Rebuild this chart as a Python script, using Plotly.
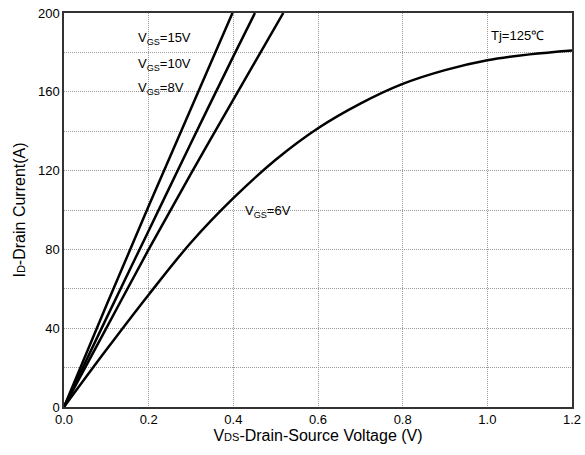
import plotly.graph_objects as go

# Data (Tj = 125 C output characteristics)
v_15 = [0.0, 0.1, 0.2, 0.3, 0.398]
i_15 = [0.0, 51.5, 102.0, 151.5, 200.0]

v_10 = [0.0, 0.1, 0.2, 0.3, 0.4, 0.451]
i_10 = [0.0, 45.0, 89.5, 134.0, 178.0, 200.0]

v_8 = [0.0, 0.1, 0.2, 0.3, 0.4, 0.518]
i_8 = [0.0, 40.0, 80.0, 118.5, 156.0, 200.0]

v_6 = [0.0, 0.1, 0.2, 0.3, 0.4, 0.5, 0.6, 0.7, 0.8, 0.9, 1.0, 1.1, 1.2]
i_6 = [0.0, 29.0, 57.0, 83.5, 106.0, 125.5, 141.5, 154.0, 164.0, 171.0, 176.0, 179.0, 181.0]

x_ticks = [0.0, 0.2, 0.4, 0.6, 0.8, 1.0, 1.2]
x_tick_text = ["0.0", "0.2", "0.4", "0.6", "0.8", "1.0", "1.2"]
y_ticks = [0, 40, 80, 120, 160, 200]

labels = ["V<sub>GS</sub>=15V", "V<sub>GS</sub>=10V", "V<sub>GS</sub>=8V", "V<sub>GS</sub>=6V", "Tj=125\u2103"]
label_x = [0.170, 0.170, 0.170, 0.422, 1.005]
label_y = [187, 174, 161.5, 99, 188.5]

FONT = "Liberation Sans"
GRID = "#9a9a9a"

fig = go.Figure()
for vx, iy in [(v_15, i_15), (v_10, i_10), (v_8, i_8), (v_6, i_6)]:
    fig.add_trace(go.Scatter(x=vx, y=iy, mode="lines",
                             line=dict(color="black", width=2.5, shape="spline", smoothing=1.0),
                             showlegend=False, hoverinfo="skip"))

for t, x, y in zip(labels, label_x, label_y):
    fig.add_annotation(x=x, y=y, text=t, showarrow=False, xanchor="left", yanchor="middle",
                       font=dict(family=FONT, size=13, color="black"))

fig.update_layout(
    width=585, height=455,
    margin=dict(l=64, r=13, t=13, b=48),
    paper_bgcolor="white", plot_bgcolor="white",
    font=dict(family=FONT, size=13, color="black"),
    xaxis=dict(range=[0, 1.2], tickvals=x_ticks, ticktext=x_tick_text, automargin=False,
               showgrid=True, gridcolor=GRID, griddash="1px,1px", gridwidth=1,
               showline=True, linecolor="#333333", linewidth=1.5, mirror=True,
               zeroline=False, ticks="", ticklen=0,
               tickfont=dict(family=FONT, size=13),
               title=dict(text="V<span style='font-size:11px'>DS</span>-Drain-Source Voltage (V)",
                          font=dict(family=FONT, size=16), standoff=2)),
    yaxis=dict(range=[0, 200], tickvals=y_ticks, automargin=False,
               showgrid=True, gridcolor=GRID, griddash="1px,1px", gridwidth=1,
               minor=dict(dtick=20, showgrid=True, gridcolor=GRID, griddash="1px,1px", gridwidth=1),
               showline=True, linecolor="#333333", linewidth=1.5, mirror=True,
               zeroline=False, ticks="", ticklen=0,
               tickfont=dict(family=FONT, size=13),
               title=dict(text="I<span style='font-size:11px'>D</span>-Drain Current(A)",
                          font=dict(family=FONT, size=16), standoff=8)),
)

fig.write_html("out.html")
